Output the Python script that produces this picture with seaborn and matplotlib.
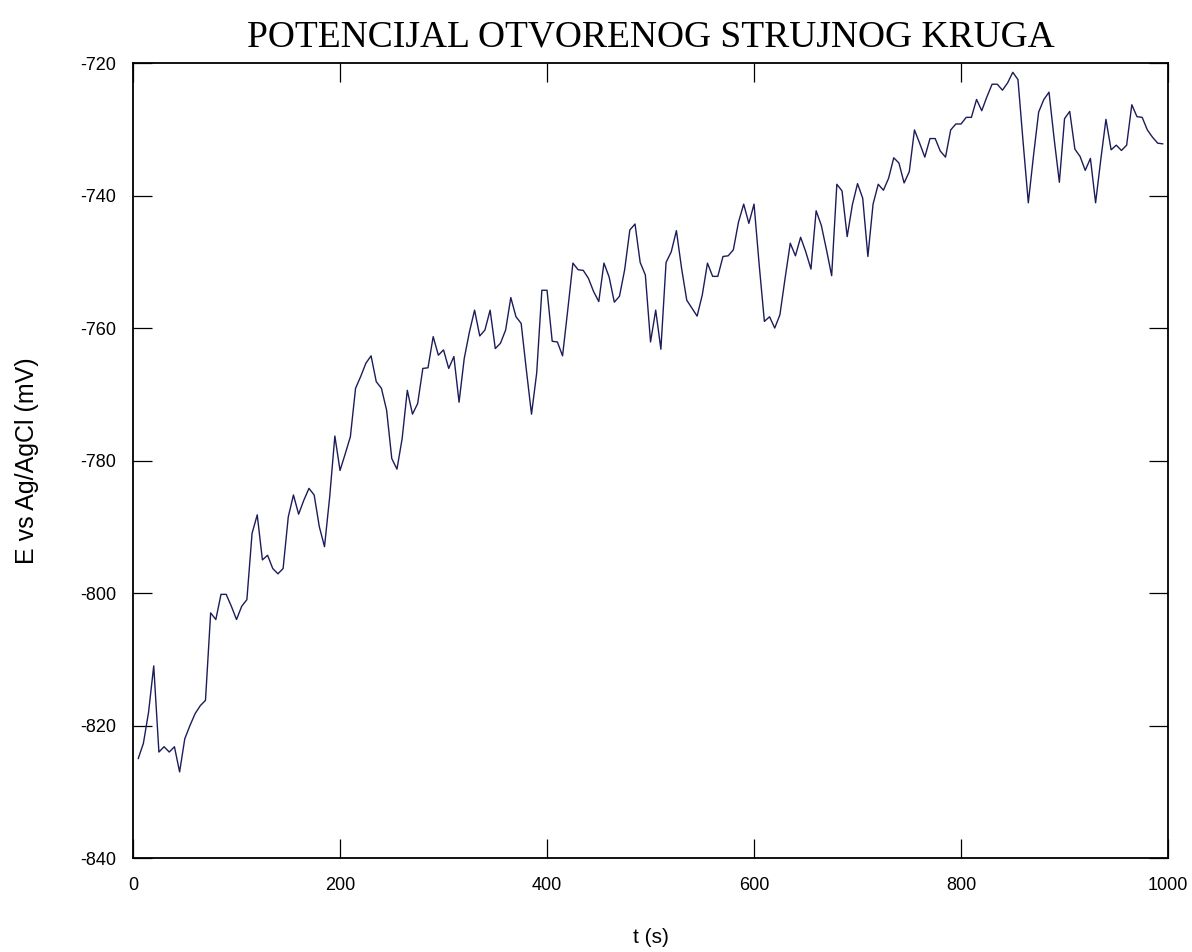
import numpy as np
import pandas as pd
import matplotlib
matplotlib.use("Agg")
import matplotlib.pyplot as plt
import seaborn as sns

# Open-circuit potential record, sampled every 5 s
t_s = list(range(5, 1000, 5))
e_mv = [
    -825.0, -822.7, -818.0, -811.0, -824.0, -823.2, -824.0, -823.2, -827.0, -822.0,
    -820.0, -818.2, -817.0, -816.2, -803.0, -804.0, -800.2, -800.2, -802.0, -804.0,
    -802.0, -801.0, -791.0, -788.2, -795.0, -794.3, -796.3, -797.1, -796.3, -788.5,
    -785.2, -788.1, -786.0, -784.2, -785.2, -790.0, -793.0, -785.5, -776.3, -781.5,
    -779.0, -776.4, -769.1, -767.3, -765.3, -764.2, -768.1, -769.1, -772.4, -779.7,
    -781.3, -776.7, -769.4, -773.0, -771.4, -766.1, -766.0, -761.3, -764.1, -763.3,
    -766.1, -764.3, -771.2, -764.6, -760.6, -757.3, -761.2, -760.3, -757.3, -763.1,
    -762.3, -760.3, -755.4, -758.3, -759.3, -766.3, -773.0, -766.8, -754.3, -754.3,
    -762.0, -762.1, -764.2, -757.3, -750.2, -751.2, -751.3, -752.5, -754.5, -756.0,
    -750.2, -752.3, -756.1, -755.2, -751.2, -745.2, -744.3, -750.1, -752.0, -762.1,
    -757.3, -763.2, -750.1, -748.5, -745.3, -751.0, -755.8, -757.0, -758.2, -755.0,
    -750.2, -752.2, -752.2, -749.2, -749.1, -748.2, -744.0, -741.3, -744.2, -741.3,
    -750.5, -759.0, -758.3, -760.0, -758.0, -752.5, -747.2, -749.1, -746.3, -748.5,
    -751.1, -742.3, -744.5, -748.2, -752.1, -738.3, -739.3, -746.2, -741.4, -738.2,
    -740.4, -749.2, -741.3, -738.3, -739.2, -737.4, -734.3, -735.1, -738.1, -736.4,
    -730.1, -732.1, -734.2, -731.4, -731.4, -733.3, -734.2, -730.1, -729.2, -729.2,
    -728.2, -728.2, -725.5, -727.2, -725.1, -723.2, -723.2, -724.1, -723.0, -721.4,
    -722.5, -732.0, -741.1, -734.0, -727.4, -725.5, -724.4, -731.5, -738.0, -728.4,
    -727.3, -733.0, -734.1, -736.2, -734.4, -741.1, -734.6, -728.5, -733.1, -732.4,
    -733.2, -732.4, -726.3, -728.1, -728.2, -730.1, -731.2, -732.1, -732.2,
]

x_ticks = [0, 200, 400, 600, 800, 1000]
y_ticks = [-840, -820, -800, -780, -760, -740, -720]

title = "POTENCIJAL OTVORENOG STRUJNOG KRUGA"
x_label = "t (s)"
y_label = "E vs Ag/AgCl (mV)"

df = pd.DataFrame({"t": t_s, "E": e_mv})

sns.set_style("ticks")
plt.rcParams["font.family"] = ["Liberation Sans", "DejaVu Sans"]
plt.rcParams["text.color"] = "black"
plt.rcParams["axes.labelcolor"] = "black"

fig = plt.figure(figsize=(11.92, 9.52), dpi=100)
ax = fig.add_axes([0.1116, 0.0987, 0.8683, 0.8351])

sns.lineplot(data=df, x="t", y="E", ax=ax, color="#1c1c5a", linewidth=1.0)

ax.set_xlim(0, 1000)
ax.set_ylim(-840, -720)
ax.set_xticks(x_ticks)
ax.set_yticks(y_ticks)
ax.set_xticklabels([str(v) for v in x_ticks])
ax.set_yticklabels([str(v) for v in y_ticks])

ax.tick_params(direction="in", length=14, width=0.9, colors="black",
               labelcolor="black", top=True, right=True, labelsize=13)
ax.tick_params(axis="x", pad=14)
ax.tick_params(axis="y", pad=12)

for side in ["left", "right", "top", "bottom"]:
    ax.spines[side].set_visible(True)
    ax.spines[side].set_linewidth(1.3)
    ax.spines[side].set_color("black")

ax.set_xlabel(x_label, fontsize=15, labelpad=24, color="black")
ax.set_ylabel(y_label, fontsize=18, labelpad=30, color="black")
ax.set_title(title, fontsize=27, family=["Liberation Serif", "DejaVu Serif"],
             pad=12, color="black")

fig.savefig("out.png", dpi=100, facecolor="white")
